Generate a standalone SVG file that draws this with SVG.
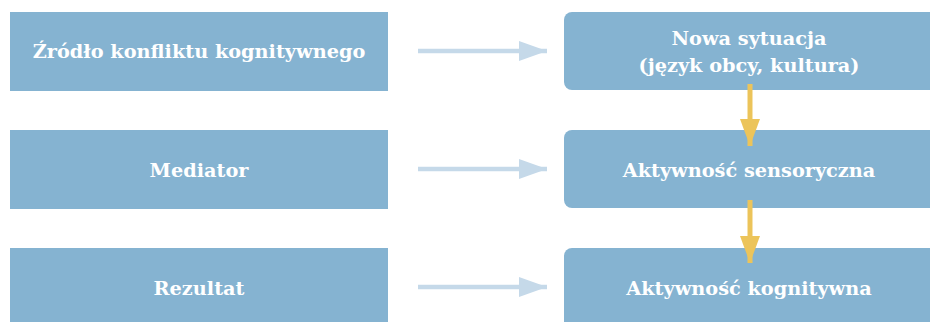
<svg xmlns="http://www.w3.org/2000/svg" width="930" height="322" viewBox="0 0 930 322">
<style>
.box{fill:#85b3d1}
.t{font-family:"DejaVu Serif","Liberation Serif",serif;font-weight:bold;font-size:19.3px;fill:#ffffff;text-anchor:middle}
.h{stroke:#c5d9e9;stroke-width:4.5;fill:none}
.v{stroke:#ecc45a;stroke-width:5;fill:none}
</style>
<defs>
<marker id="ah" markerUnits="userSpaceOnUse" markerWidth="28" markerHeight="20" refX="28" refY="10" orient="auto"><path d="M0,0 L28,10 L0,20 Z" fill="#c5d9e9"/></marker>
<marker id="av" markerUnits="userSpaceOnUse" markerWidth="27" markerHeight="20" refX="27" refY="10" orient="auto"><path d="M0,0 L27,10 L0,20 Z" fill="#ecc45a"/></marker>
</defs>
<rect width="930" height="322" fill="#ffffff"/>
<g id="n1"><rect class="box" x="10" y="12" width="378" height="79"/><text class="t" x="199" y="58">Źródło konfliktu kognitywnego</text></g>
<g id="n2"><rect class="box" x="10" y="130" width="378" height="79"/><text class="t" x="199" y="177">Mediator</text></g>
<g id="n3"><rect class="box" x="10" y="248" width="378" height="79"/><text class="t" x="199" y="295">Rezultat</text></g>
<g id="n4"><rect class="box" x="564" y="12" width="380" height="78" rx="8"/><text class="t" x="749" y="45">Nowa sytuacja</text><text class="t" x="749" y="72">(język obcy, kultura)</text></g>
<g id="n5"><rect class="box" x="564" y="130" width="380" height="78" rx="8"/><text class="t" x="749" y="177">Aktywność sensoryczna</text></g>
<g id="n6"><rect class="box" x="564" y="248" width="380" height="82" rx="8"/><text class="t" x="749" y="295">Aktywność kognitywna</text></g>
<g id="connectors">
<line class="h" x1="418" y1="51" x2="547" y2="51" marker-end="url(#ah)"/>
<line class="h" x1="418" y1="169" x2="547" y2="169" marker-end="url(#ah)"/>
<line class="h" x1="418" y1="287" x2="547" y2="287" marker-end="url(#ah)"/>
<line class="v" x1="750" y1="84" x2="750" y2="146" marker-end="url(#av)"/>
<line class="v" x1="750" y1="200" x2="750" y2="263" marker-end="url(#av)"/>
</g>
</svg>
